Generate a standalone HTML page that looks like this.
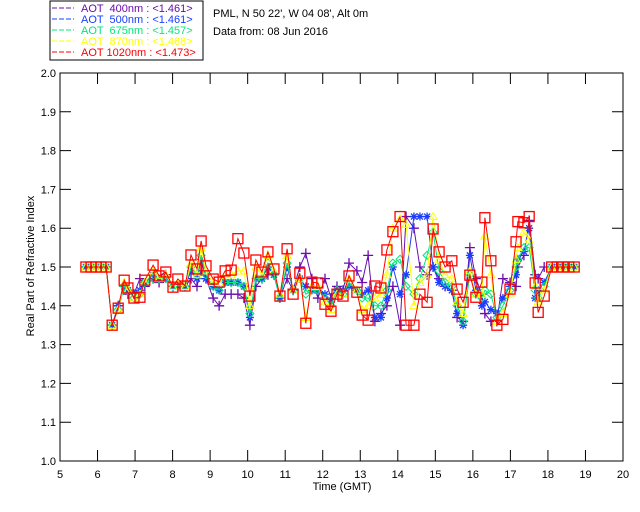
<!DOCTYPE html>
<html><head><meta charset="utf-8"><style>
body{margin:0;background:#fff;}
svg{display:block;font-family:"Liberation Sans",sans-serif;}
</style></head><body>
<svg id="chart" width="640" height="512" xmlns="http://www.w3.org/2000/svg">
<rect width="640" height="512" fill="#fff"/>
<g id="legend">
<rect x="50" y="1" width="153" height="59" fill="#fff" stroke="#000" stroke-width="1"/>
</g>
<text x="213" y="17" font-size="11">PML, N 50 22', W 04 08', Alt 0m</text>
<text x="213" y="35" font-size="11">Data from: 08 Jun 2016</text>
<g id="axes"></g>
<g id="series"></g>
<text x="342" y="490" font-size="11" text-anchor="middle">Time (GMT)</text>
<text transform="translate(34,266) rotate(-90)" font-size="11" text-anchor="middle">Real Part of Refractive Index</text>
</svg>
<script>
const times=[5.69,5.83,5.96,6.09,6.23,6.39,6.55,6.71,6.81,6.97,7.13,7.26,7.48,7.64,7.82,8.01,8.14,8.33,8.49,8.65,8.76,8.89,9.08,9.24,9.40,9.56,9.74,9.90,10.06,10.22,10.38,10.54,10.70,10.86,11.05,11.21,11.39,11.55,11.71,11.87,12.06,12.22,12.38,12.54,12.70,12.91,13.05,13.21,13.39,13.55,13.71,13.87,14.06,14.22,14.43,14.59,14.78,14.94,15.10,15.26,15.44,15.58,15.74,15.92,16.08,16.24,16.32,16.48,16.64,16.80,16.99,17.15,17.20,17.36,17.50,17.66,17.74,17.90,18.10,18.25,18.40,18.55,18.70];
const aot1020=[1.5,1.5,1.5,1.5,1.5,1.35,1.394,1.466,1.446,1.42,1.422,1.466,1.505,1.477,1.487,1.448,1.469,1.451,1.531,1.495,1.567,1.503,1.469,1.461,1.49,1.492,1.573,1.536,1.425,1.518,1.487,1.539,1.495,1.425,1.547,1.43,1.484,1.355,1.461,1.459,1.404,1.386,1.43,1.425,1.477,1.435,1.376,1.363,1.451,1.446,1.544,1.591,1.63,1.35,1.35,1.43,1.409,1.598,1.539,1.5,1.516,1.443,1.409,1.479,1.422,1.461,1.627,1.516,1.35,1.365,1.443,1.565,1.617,1.614,1.63,1.459,1.383,1.425,1.5,1.5,1.5,1.5,1.5];
const aot870=[1.5,1.5,1.5,1.5,1.5,1.35,1.39,1.46,1.44,1.42,1.43,1.46,1.49,1.47,1.48,1.45,1.46,1.45,1.51,1.48,1.55,1.49,1.46,1.46,1.48,1.48,1.49,1.49,1.40,1.50,1.48,1.53,1.49,1.43,1.53,1.44,1.47,1.37,1.45,1.45,1.41,1.39,1.43,1.43,1.47,1.44,1.39,1.40,1.42,1.43,1.48,1.60,1.625,1.61,1.40,1.46,1.48,1.63,1.52,1.48,1.47,1.41,1.38,1.49,1.43,1.43,1.58,1.48,1.36,1.38,1.43,1.52,1.55,1.59,1.57,1.45,1.41,1.44,1.5,1.5,1.5,1.5,1.5];
const aot675=[1.5,1.5,1.5,1.5,1.5,1.35,1.39,1.45,1.44,1.42,1.43,1.46,1.47,1.47,1.47,1.45,1.45,1.45,1.50,1.48,1.53,1.48,1.45,1.44,1.46,1.46,1.46,1.45,1.38,1.47,1.47,1.51,1.48,1.42,1.51,1.44,1.47,1.43,1.44,1.44,1.42,1.40,1.44,1.43,1.46,1.44,1.42,1.42,1.40,1.40,1.44,1.51,1.52,1.45,1.43,1.47,1.53,1.59,1.49,1.46,1.45,1.40,1.36,1.48,1.43,1.42,1.44,1.43,1.37,1.40,1.44,1.50,1.52,1.55,1.55,1.44,1.42,1.45,1.5,1.5,1.5,1.5,1.5];
const aot500=[1.5,1.5,1.5,1.5,1.5,1.35,1.40,1.45,1.44,1.43,1.44,1.46,1.48,1.47,1.47,1.45,1.45,1.45,1.49,1.47,1.52,1.47,1.45,1.44,1.46,1.46,1.46,1.45,1.37,1.47,1.47,1.50,1.48,1.42,1.50,1.44,1.47,1.45,1.44,1.44,1.43,1.41,1.44,1.44,1.45,1.44,1.43,1.44,1.37,1.37,1.42,1.50,1.43,1.48,1.63,1.63,1.63,1.50,1.46,1.45,1.44,1.38,1.35,1.53,1.44,1.40,1.41,1.39,1.38,1.42,1.45,1.48,1.52,1.54,1.60,1.42,1.44,1.46,1.5,1.5,1.5,1.5,1.5];
const aot400=[1.5,1.5,1.5,1.5,1.5,1.35,1.40,1.45,1.43,1.43,1.47,1.45,1.47,1.46,1.48,1.45,1.45,1.45,1.47,1.45,1.49,1.47,1.42,1.40,1.43,1.43,1.43,1.42,1.35,1.45,1.47,1.48,1.48,1.42,1.47,1.44,1.50,1.535,1.47,1.42,1.47,1.42,1.45,1.44,1.51,1.49,1.46,1.53,1.36,1.38,1.40,1.45,1.35,1.63,1.60,1.50,1.48,1.50,1.47,1.45,1.44,1.37,1.36,1.55,1.47,1.43,1.38,1.36,1.36,1.47,1.46,1.45,1.50,1.53,1.62,1.48,1.47,1.50,1.5,1.5,1.5,1.5,1.5];
const xTicks=[5,6,7,8,9,10,11,12,13,14,15,16,17,18,19,20];
const yTicks=[1.0,1.1,1.2,1.3,1.4,1.5,1.6,1.7,1.8,1.9,2.0];
const seriesNames=["AOT  400nm","AOT  500nm","AOT  675nm","AOT  870nm","AOT 1020nm"];
const seriesMeans=["<1.461>","<1.461>","<1.457>","<1.468>","<1.473>"];

const NS="http://www.w3.org/2000/svg";
const X0=60,X1=623,Y0=461,Y1=73;
function sx(t){return X0+(t-5)/15*(X1-X0);}
function sy(v){return Y0-(v-1)/1*(Y0-Y1);}
function mk(tag,attrs,parent){const e=document.createElementNS(NS,tag);for(const k in attrs)e.setAttribute(k,attrs[k]);parent.appendChild(e);return e;}
const axes=document.getElementById('axes');
const frame=mk('rect',{x:X0,y:Y1,width:X1-X0,height:Y0-Y1,fill:'none',stroke:'#000','stroke-width':1},axes);


xTicks.forEach(t=>{
  const x=sx(t);
  const l=mk('path',{d:`M${x},${Y0}v-11M${x},${Y1}v11`,stroke:'#000'},axes);
  
  
  const tx=mk('text',{x:x,y:Y0+17,'font-size':11,'text-anchor':'middle'},axes);
  tx.textContent=t;
  
  
});
yTicks.forEach(v=>{
  const y=sy(v);
  const l=mk('path',{d:`M${X0},${y}h11M${X1},${y}h-11`,stroke:'#000'},axes);
  
  
  const tx=mk('text',{x:X0-4,y:y+4,'font-size':11,'text-anchor':'end'},axes);
  tx.textContent=v.toFixed(1);
  
  
});
const colors=["#6a0dad","#1a3cff","#00e87a","#ffff00","#ff0000"];
const data=[aot400,aot500,aot675,aot870,aot1020];
const sg=document.getElementById('series');
const lg=document.getElementById('legend');
data.forEach((vals,si)=>{
  const c=colors[si];
  const g=mk('g',{},sg);
  
  
  const d=vals.map((v,i)=>(i?'L':'M')+sx(times[i]).toFixed(1)+','+sy(v).toFixed(1)).join('');
  const p=mk('path',{d:d,fill:'none',stroke:c,'stroke-width':1},g);
  
  
  vals.forEach((v,i)=>{
    const x=sx(times[i]),y=sy(v);let m;
    if(si===0)m=mk('path',{d:`M${x-5},${y}h10M${x},${y-5}v10`,stroke:c,'stroke-width':1.3},g);
    else if(si===1)m=mk('path',{d:`M${x-4},${y}h8M${x},${y-4}v8M${x-3},${y-3}l6,6M${x-3},${y+3}l6,-6`,stroke:c,'stroke-width':1.3},g);
    else if(si===2)m=mk('path',{d:`M${x},${y-4}l4,4l-4,4l-4,-4z`,fill:'none',stroke:c},g);
    else if(si===3)m=mk('path',{d:`M${x},${y-4}l4,7h-8z`,fill:'none',stroke:c},g);
    else m=mk('rect',{x:x-5,y:y-5,width:10,height:10,fill:'none',stroke:c,'stroke-width':1.3},g);
    
    
  });
  const ly=12+si*11;
  const ll=mk('path',{d:`M52,${ly-4}h22`,stroke:c,'stroke-dasharray':'5,2'},lg);
  
  
  const lt=mk('text',{x:81,y:ly,'font-size':11,fill:c},lg);
  lt.textContent=seriesNames[si]+' : '+seriesMeans[si];
  lt.setAttribute('xml:space','preserve');
  lt.style.whiteSpace='pre';
  
  
});
</script>
</body></html>
